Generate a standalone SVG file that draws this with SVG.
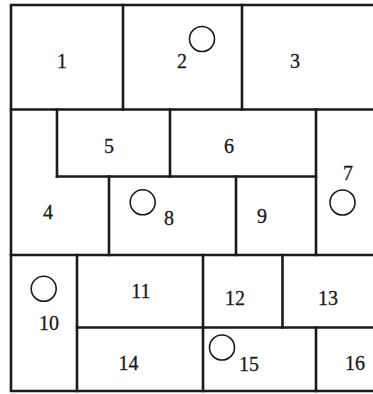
<svg xmlns="http://www.w3.org/2000/svg" width="373" height="394" viewBox="0 0 373 394">
<style>
.w{stroke:#1a1a1a;stroke-width:2.6;fill:none;stroke-linecap:square}
.c{stroke:#1a1a1a;stroke-width:1.6;fill:none}
text{font-family:"Liberation Serif","Times New Roman",serif;font-size:20px;fill:#1a1a1a;stroke:#1a1a1a;stroke-width:0.3;text-anchor:middle}
</style>
<rect width="373" height="394" fill="#fff"/>
<g id="walls" class="w">
<path d="M376 5H11V391H376"/>
<path d="M11 109.5H376M11 255H376M77 327.5H376M57 176.5H316"/>
<path d="M123 5V109.5M242 5V109.5M57 109.5V176.5M170 109.5V176.5M316 109.5V255M109 176.5V255M236 176.5V255M77 255V391M203 255V391M282.5 255V327.5M316 327.5V391"/>
</g>
<g id="r1"><text x="62" y="68">1</text></g>
<g id="r2"><text x="182" y="68">2</text><circle class="c" cx="202" cy="39" r="12.5"/></g>
<g id="r3"><text x="295" y="68">3</text></g>
<g id="r4"><text x="48" y="219">4</text></g>
<g id="r5"><text x="109" y="153">5</text></g>
<g id="r6"><text x="229" y="153">6</text></g>
<g id="r7"><text x="348" y="180">7</text><circle class="c" cx="342.5" cy="202.5" r="12.5"/></g>
<g id="r8"><text x="169" y="225">8</text><circle class="c" cx="142.7" cy="202.3" r="12.5"/></g>
<g id="r9"><text x="262" y="223">9</text></g>
<g id="r10"><text x="49" y="330">10</text><circle class="c" cx="43.7" cy="288.8" r="12.5"/></g>
<g id="r11"><text x="141" y="298">11</text></g>
<g id="r12"><text x="235" y="305">12</text></g>
<g id="r13"><text x="328" y="305">13</text></g>
<g id="r14"><text x="128.5" y="370">14</text></g>
<g id="r15"><text x="249" y="371">15</text><circle class="c" cx="222" cy="347.5" r="12.5"/></g>
<g id="r16"><text x="355" y="370">16</text></g>
</svg>
